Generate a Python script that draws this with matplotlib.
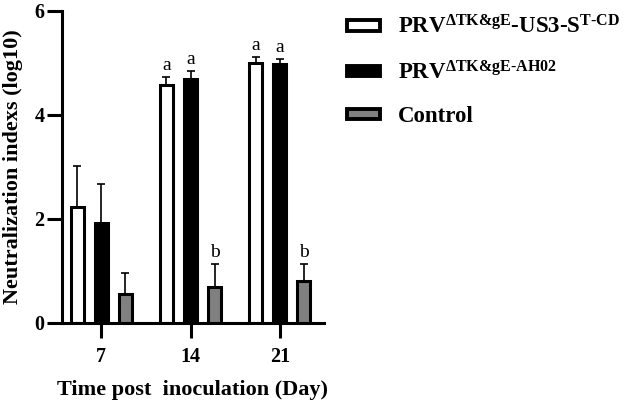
import numpy as np
import matplotlib
matplotlib.use("Agg")
from matplotlib import pyplot as plt
from matplotlib.patches import Patch

plt.rcParams['font.family'] = ['Liberation Serif', 'DejaVu Serif']
plt.rcParams['font.weight'] = 'bold'
plt.rcParams['mathtext.fontset'] = 'custom'
plt.rcParams['mathtext.rm'] = 'Liberation Serif:bold'
plt.rcParams['mathtext.bf'] = 'Liberation Serif:bold'
plt.rcParams['mathtext.it'] = 'Liberation Serif:bold:italic'

# daten
days = ["7", "14", "21"]
vaccine = [2.23, 4.58, 5.00]
vaccine_err = [0.79, 0.15, 0.12]
parent = [1.92, 4.69, 4.98]
parent_err = [0.75, 0.16, 0.10]
control = [0.56, 0.69, 0.81]
control_err = [0.40, 0.44, 0.32]
letters_vaccine = ["", "a", "a"]
letters_parent = ["", "a", "a"]
letters_control = ["", "b", "b"]

labels = [r"PRV$^{\mathrm{\Delta TK&gE}}$-US3-S$^{\mathrm{T}\text{-}\mathrm{CD}}$",
          r"PRV$^{\mathrm{\Delta TK&gE}\text{-}\mathrm{AH02}}$",
          "Control"]

fig = plt.figure(figsize=(6.24, 4.05), dpi=100)
ax = fig.add_axes([0.0994, 0.2025, 0.4192, 0.7705])

x = np.arange(len(days))
off = 0.27
w = 0.146
lw = 2.2
ekw = dict(elinewidth=1.2, capthick=1.2, capsize=3, ecolor='black')

series = [(vaccine, vaccine_err, 'white', letters_vaccine),
          (parent, parent_err, 'black', letters_parent),
          (control, control_err, '#808080', letters_control)]

for i, (vals, err, col, let) in enumerate(series):
    pos = x + (i - 1) * off
    ax.bar(pos, vals, w, color=col, edgecolor='black', linewidth=lw,
           yerr=[np.zeros(len(err)), err], error_kw=ekw, zorder=2)
    for p, v, e, l in zip(pos, vals, err, let):
        if l:
            ax.text(p, v + e + 0.06, l, ha='center', va='bottom',
                    fontsize=14, fontweight='normal')

ax.set_xlim(-0.44, 2.49)
ax.set_ylim(0, 6)
ax.set_yticks([0, 2, 4, 6])
ax.set_xticks(x)
ax.set_xticklabels(days)
ax.tick_params(labelsize=14.5, width=2.2, length=10.5)
ax.tick_params(axis='x', pad=7)
ax.tick_params(axis='y', pad=2)
ax.spines['top'].set_visible(False)
ax.spines['right'].set_visible(False)
ax.spines['left'].set_linewidth(2.2)
ax.spines['bottom'].set_linewidth(2.2)

ax.set_xlabel("Time post  inoculation (Day)", fontsize=16, fontweight='bold', labelpad=9)
ax.set_ylabel("Neutralization indexs (log10)", fontsize=16, fontweight='bold', labelpad=8)

handles = [Patch(facecolor=c, edgecolor='black', linewidth=2.8) for _, _, c, _ in series]
fig.legend(handles, labels, loc='upper left', bbox_to_anchor=(0.537, 0.99),
           frameon=False, fontsize=16.5, handlelength=1.45, handleheight=0.3,
           labelspacing=0.97, borderpad=0, handletextpad=0.8)

fig.savefig("out.png", dpi=100)
